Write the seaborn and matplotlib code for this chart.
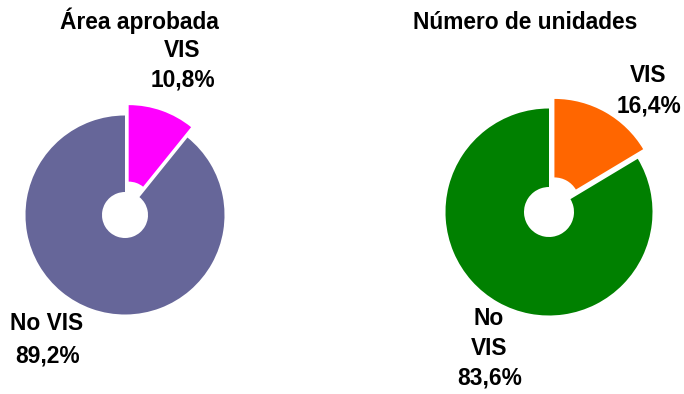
import matplotlib
matplotlib.use("Agg")
import matplotlib.pyplot as plt
from matplotlib import font_manager
import seaborn as sns

sns.set_theme(style="white")
plt.rcParams["font.family"] = ["Liberation Sans", "DejaVu Sans"]

# Data
titles = ["Área aprobada", "Número de unidades"]
categories = ["VIS", "No VIS"]
area_values = [10.8, 89.2]
units_values = [16.4, 83.6]
area_colors = ["#FF00FF", "#666699"]
units_colors = ["#FF6600", "#008000"]

W, H = 684, 394
fig = plt.figure(figsize=(W / 100, H / 100), dpi=100)
fig.patch.set_facecolor("white")

# Pick the regular-width bold Arial-metric face explicitly (not the Narrow one)
bold_file = None
for f in font_manager.fontManager.ttflist:
    fn = f.fname.lower()
    if "liberationsans-bold." in fn.replace("_", "") or fn.endswith("liberationsans-bold.ttf"):
        bold_file = f.fname
        break
if bold_file is None:
    for f in font_manager.fontManager.ttflist:
        if f.name == "Liberation Sans" and f.weight in (700, "bold") \
                and "narrow" not in f.fname.lower() and f.style == "normal":
            bold_file = f.fname
            break


def fmt(v):
    return f"{v:.1f}%".replace(".", ",")


def px_text(x, y, s, size=16.4):
    if bold_file:
        fp = font_manager.FontProperties(fname=bold_file, size=size)
    else:
        fp = font_manager.FontProperties(family="DejaVu Sans", weight="bold", size=size)
    fig.text(x / W, 1 - y / H, s, ha="center", va="baseline",
             fontproperties=fp, color="black")


def donut(cx, cy, radius_px, hole_px, values, colors, explode_px):
    half = 100
    ax = fig.add_axes([(cx - half) / W, (H - cy - half) / H,
                       2 * half / W, 2 * half / H])
    r = radius_px / 100
    wedges, _ = ax.pie(values, colors=colors, startangle=90, counterclock=False,
                       explode=[explode_px / 100, 0], radius=r,
                       wedgeprops=dict(width=r - hole_px / 100, linewidth=0))
    for w in wedges:
        w.set_clip_on(False)
    ax.set_xlim(-1, 1)
    ax.set_ylim(-1, 1)
    ax.set_aspect("equal")
    ax.axis("off")
    return ax


# Left donut: approved area
donut(125, 215, 99.5, 23, area_values, area_colors, 11)
px_text(139, 29, titles[0])
px_text(182, 57, categories[0])
px_text(183, 87, fmt(area_values[0]))
px_text(47, 330, categories[1])
px_text(48, 362, fmt(area_values[1]))

# Right donut: number of units
donut(549, 212, 103.5, 25, units_values, units_colors, 11)
px_text(525, 29, titles[1])
px_text(648, 82, categories[0])
px_text(649, 112, fmt(units_values[0]))
no_word, vis_word = categories[1].split(" ")
px_text(489, 325, no_word)
px_text(489, 355, vis_word)
px_text(490, 385, fmt(units_values[1]))

fig.savefig("out.png", dpi=100, facecolor="white")
